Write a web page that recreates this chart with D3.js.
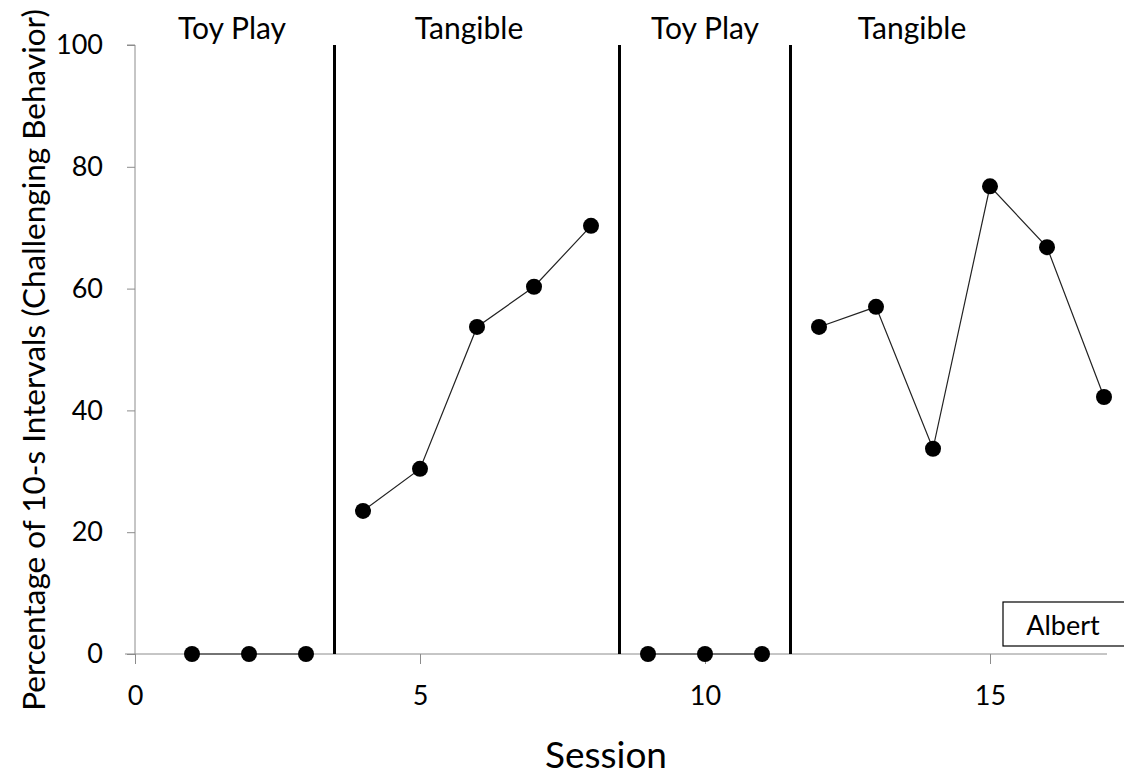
<!DOCTYPE html>
<html>
<head>
<meta charset="utf-8">
<script src="https://cdn.jsdelivr.net/npm/d3@7"></script>
<style>
  body { margin: 0; background: #fff; }
  text { font-family: Lato, "Open Sans", sans-serif; fill: #000; }
</style>
</head>
<body>
<div id="chart"></div>
<script>
// sessions and percent of intervals, split by phase
const phases = [
    { label: "Toy Play", sessions: [1, 2, 3], values: [0, 0, 0] },
    { label: "Tangible", sessions: [4, 5, 6, 7, 8], values: [23.5, 30.4, 53.7, 60.3, 70.3] },
    { label: "Toy Play", sessions: [9, 10, 11], values: [0, 0, 0] },
    { label: "Tangible", sessions: [12, 13, 14, 15, 16, 17], values: [53.7, 57, 33.7, 76.8, 66.8, 42.2] }
];
const phaseChanges = [3.5, 8.5, 11.5];
const labelCenters = [232, 469, 705, 912];
const xTicks = [0, 5, 10, 15];
const yTicks = [0, 20, 40, 60, 80, 100];

const width = 1124, height = 776;
const svg = d3.select("#chart").append("svg")
    .attr("width", width)
    .attr("height", height);

const x = d3.scaleLinear().domain([0, 17]).range([135, 1104]);
const y = d3.scaleLinear().domain([0, 100]).range([654, 45]);

// axes
const yAxis = svg.append("g")
    .attr("transform", `translate(${x(0)},0)`)
    .call(d3.axisLeft(y).tickValues(yTicks).tickSize(8).tickPadding(24));
yAxis.selectAll("line, path").attr("stroke", "#8c8c8c");
yAxis.selectAll("text").attr("font-size", 27).attr("font-family", "Lato, sans-serif");
yAxis.select(".domain").attr("d", `M-8,${y(100)}H0V${y(0)}`);

const xAxis = svg.append("g")
    .attr("transform", `translate(0,${y(0)})`)
    .call(d3.axisBottom(x).tickValues(xTicks).tickSize(10).tickPadding(22));
xAxis.selectAll("line, path").attr("stroke", "#8c8c8c");
xAxis.selectAll("text").attr("font-size", 27).attr("font-family", "Lato, sans-serif");
xAxis.select(".domain").attr("d", `M125,0H1107`);

// phase change lines
svg.append("g").selectAll("line")
    .data(phaseChanges)
    .join("line")
    .attr("x1", d => x(d)).attr("x2", d => x(d))
    .attr("y1", y(100)).attr("y2", y(0))
    .attr("stroke", "#000")
    .attr("stroke-width", 3);

// phase labels
svg.append("g").selectAll("text")
    .data(phases)
    .join("text")
    .attr("x", (d, i) => labelCenters[i])
    .attr("y", 39)
    .attr("text-anchor", "middle")
    .attr("font-size", 30)
    .text(d => d.label);

// data paths and dots
const line = d3.line().x(d => x(d[0])).y(d => y(d[1]));
phases.forEach(p => {
    const pts = p.sessions.map((s, i) => [s, p.values[i]]);
    svg.append("path")
        .attr("d", line(pts))
        .attr("fill", "none")
        .attr("stroke", "#222")
        .attr("stroke-width", 1.2);
    svg.append("g").selectAll("circle")
        .data(pts)
        .join("circle")
        .attr("cx", d => x(d[0]))
        .attr("cy", d => y(d[1]))
        .attr("r", 8)
        .attr("fill", "#000");
});

// participant box
svg.append("rect")
    .attr("x", 1003).attr("y", 602)
    .attr("width", 130).attr("height", 44)
    .attr("fill", "#fff")
    .attr("stroke", "#000")
    .attr("stroke-width", 1.2);
svg.append("text")
    .attr("x", 1063).attr("y", 635)
    .attr("text-anchor", "middle")
    .attr("font-size", 27)
    .text("Albert");

// axis titles
svg.append("text")
    .attr("x", 606).attr("y", 768)
    .attr("text-anchor", "middle")
    .attr("font-size", 37)
    .text("Session");

svg.append("text")
    .attr("transform", `translate(45,360) rotate(-90)`)
    .attr("text-anchor", "middle")
    .attr("font-size", 31.5)
    .text("Percentage of 10-s Intervals (Challenging Behavior)");
</script>
</body>
</html>
